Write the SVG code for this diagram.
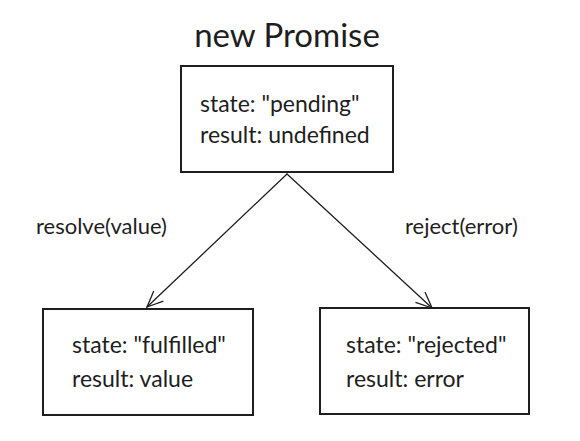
<svg xmlns="http://www.w3.org/2000/svg" width="580" height="441" viewBox="0 0 580 441">
<style>
text{font-family:Lato,"Open Sans",sans-serif;fill:#1e1e1e}
.box{fill:#fff;stroke:#1e1e1e;stroke-width:2}
.t{font-size:23px}
.lbl{font-size:22px}
.c{fill:none;stroke:#1e1e1e;stroke-width:1.3;stroke-linecap:round}
</style>
<defs>
<marker id="ah" viewBox="0 0 20 20" refX="18" refY="10" markerWidth="20" markerHeight="20" markerUnits="userSpaceOnUse" orient="auto">
<path d="M2 3 L18 10 L2 17" fill="none" stroke="#1e1e1e" stroke-width="1.3"/>
</marker>
</defs>
<rect width="580" height="441" fill="#fff"/>
<text x="287" y="47" font-size="33" text-anchor="middle">new Promise</text>
<g id="connectors">
<path class="c" d="M287 174 L147 307" marker-end="url(#ah)"/>
<path class="c" d="M287 174 L432 308" marker-end="url(#ah)"/>
<text class="lbl" x="36" y="234">resolve(value)</text>
<text class="lbl" x="405" y="234">reject(error)</text>
</g>
<g id="pending">
<rect class="box" x="181" y="66" width="212" height="106"/>
<text class="t" x="200" y="112">state: "pending"</text>
<text class="t" x="200" y="143">result: undefined</text>
</g>
<g id="fulfilled">
<rect class="box" x="43" y="309" width="210" height="106"/>
<text class="t" x="72" y="353">state: "fulfilled"</text>
<text class="t" x="72" y="387">result: value</text>
</g>
<g id="rejected">
<rect class="box" x="320" y="308" width="209" height="106"/>
<text class="t" x="346" y="353">state: "rejected"</text>
<text class="t" x="346" y="387">result: error</text>
</g>
</svg>
